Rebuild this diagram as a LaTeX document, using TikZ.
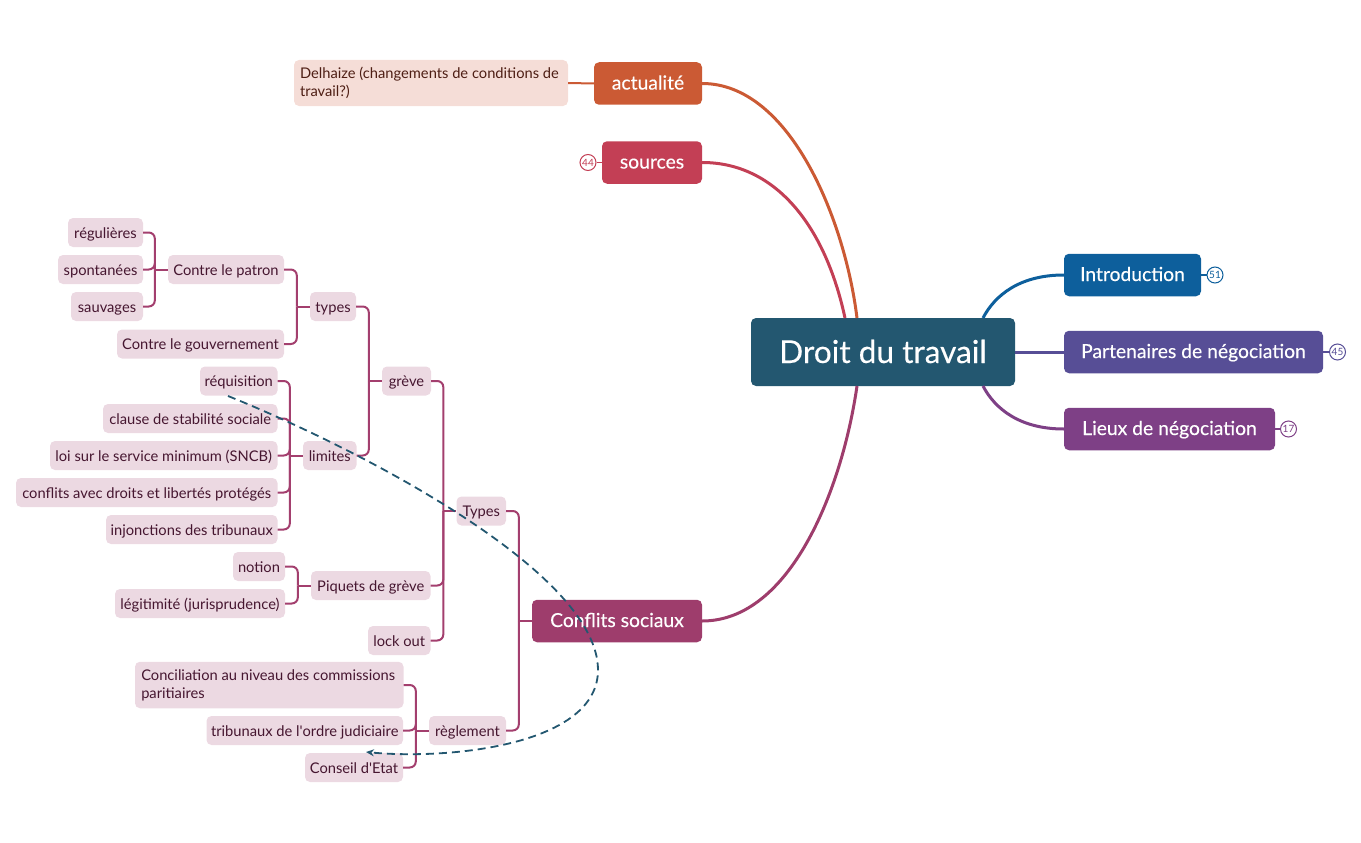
\documentclass[tikz,border=0pt]{standalone}
\usepackage{fontspec}
\setmainfont{Lato}
\newfontfamily\topicfont[FakeBold=0.25]{Lato}
\usepackage{tikz}
\usetikzlibrary{positioning, arrows.meta}
\definecolor{centralColor}{RGB}{35, 87, 112}
\definecolor{newsColor}{RGB}{203, 90, 52}
\definecolor{newsFill}{RGB}{245, 221, 215}
\definecolor{newsText}{RGB}{78, 30, 20}
\definecolor{sourceColor}{RGB}{195, 63, 85}
\definecolor{conflictColor}{RGB}{158, 61, 108}
\definecolor{conflictLine}{RGB}{163, 63, 110}
\definecolor{conflictFill}{RGB}{236, 217, 226}
\definecolor{conflictText}{RGB}{70, 22, 48}
\definecolor{introColor}{RGB}{13, 95, 156}
\definecolor{partnerColor}{RGB}{87, 78, 150}
\definecolor{placeColor}{RGB}{126, 64, 134}
\tikzset{
    central_topic/.style={
        fill=centralColor,
        text=white,
        rounded corners=5pt,
        inner sep=0pt,
        text height=25pt,
        text depth=3pt,
        font=\topicfont\fontsize{31.6}{36}\selectfont
    },
    main_topic/.style={
        fill=#1,
        text=white,
        rounded corners=5pt,
        inner sep=0pt,
        minimum height=42.5pt,
        text height=15pt,
        text depth=3pt,
        font=\topicfont\fontsize{19.3}{23}\selectfont
    },
    sub_block/.style={
        fill=conflictFill,
        text=conflictText,
        rounded corners=5pt,
        inner sep=0pt,
        minimum height=29pt,
        font=\fontsize{14.7}{18}\selectfont
    },
    sub_topic/.style={
        sub_block,
        text height=13pt,
        text depth=2pt
    },
    sub_lines/.style={
        sub_block,
        align=flush left
    },
    count_badge/.style={
        circle,
        draw=#1,
        text=#1,
        fill=white,
        line width=1pt,
        inner sep=0pt,
        minimum size=16pt,
        font=\fontsize{10}{10}\selectfont
    },
    trunk_edge/.style={
        line width=3pt,
        draw=#1
    },
    branch_edge/.style={
        line width=2pt,
        draw=conflictLine,
        rounded corners=6pt
    },
    relation_edge/.style={
        -{Stealth[length=8pt,width=7pt]},
        line width=1.8pt,
        draw=centralColor,
        dash pattern=on 8pt off 5pt
    }
}
\begin{document}
\begin{tikzpicture}[x=1pt, y=-1pt]
    \useasboundingbox (0,0) rectangle (1361,843);

    % main topics
    \node[central_topic, minimum width=264pt, minimum height=68pt] (central) at (883,352) {Droit du travail};
    \node[main_topic=newsColor, minimum width=108pt] (actualite) at (648,83.5) {actualité};
    \node[main_topic=sourceColor, minimum width=100pt] (sources) at (652,162.5) {sources};
    \node[main_topic=conflictColor, minimum width=170pt] (conflits) at (617,621) {Conflits sociaux};
    \node[main_topic=introColor, minimum width=137pt] (intro) at (1132.5,275) {Introduction};
    \node[main_topic=partnerColor, minimum width=259pt] (partenaires) at (1193.5,352) {Partenaires de négociation};
    \node[main_topic=placeColor, minimum width=211pt] (lieux) at (1169.5,429) {Lieux de négociation};

    % badges
    \node[count_badge=sourceColor] (badge_sources) at (588,162.5) {44};
    \node[count_badge=introColor] (badge_intro) at (1215,275) {51};
    \node[count_badge=partnerColor] (badge_partenaires) at (1337.5,352) {45};
    \node[count_badge=placeColor] (badge_lieux) at (1288.5,429) {17};

    \node[sub_lines, fill=newsFill, text=newsText, minimum width=274pt, minimum height=46pt, text width=262pt] (delhaize) at (431,83) {Delhaize (changements de conditions de travail?)};

    % greve
    \node[sub_topic, minimum width=75pt] (regulieres) at (105.5,232.5) {régulières};
    \node[sub_topic, minimum width=85pt] (spontanees) at (100.5,269.5) {spontanées};
    \node[sub_topic, minimum width=72pt] (sauvages) at (107,306.5) {sauvages};
    \node[sub_topic, minimum width=116pt] (patron) at (226,269.5) {Contre le patron};
    \node[sub_topic, minimum width=167pt] (gouvernement) at (200.5,344) {Contre le gouvernement};
    \node[sub_topic, minimum width=46pt] (types) at (333,306.5) {types};
    \node[sub_topic, minimum width=77.5pt] (requisition) at (238.75,381) {réquisition};
    \node[sub_topic, minimum width=174.5pt] (clause) at (190.25,418.5) {clause de stabilité sociale};
    \node[sub_topic, minimum width=227.5pt] (service) at (163.75,455.5) {loi sur le service minimum (SNCB)};
    \node[sub_topic, minimum width=261.5pt] (droits) at (146.75,492.5) {conflits avec droits et libertés protégés};
    \node[sub_topic, minimum width=171.5pt] (injonctions) at (191.75,529.5) {injonctions des tribunaux};
    \node[sub_topic, minimum width=53.5pt] (limites) at (329.75,455.5) {limites};
    \node[sub_topic, minimum width=49pt] (greve) at (406.5,381) {grève};

    % piquets, lock out
    \node[sub_topic, minimum width=52pt] (notion) at (259,566.5) {notion};
    \node[sub_topic, minimum width=170pt] (legitimite) at (200,603.5) {légitimité (jurisprudence)};
    \node[sub_topic, minimum width=119.5pt] (piquets) at (370.75,585.5) {Piquets de grève};
    \node[sub_topic, minimum width=62.5pt] (lockout) at (399.25,640.5) {lock out};
    \node[sub_topic, minimum width=49.5pt] (typesgen) at (481.25,511) {Types};

    % reglement
    \node[sub_lines, minimum width=268.5pt, minimum height=46.5pt, text width=256pt] (conciliation) at (269.25,685) {Conciliation au niveau des commissions paritiaires};
    \node[sub_topic, minimum width=196.5pt] (judiciaire) at (304.75,730.5) {tribunaux de l\textquotesingle ordre judiciaire};
    \node[sub_topic, minimum width=98pt] (conseil) at (354,767.5) {Conseil d\textquotesingle Etat};
    \node[sub_topic, minimum width=77pt] (reglement) at (467.5,730.5) {règlement};

    % where the trunks meet the central box
    \coordinate (central_top_a) at (857,318);
    \coordinate (central_top_b) at (845,318);
    \coordinate (central_top_c) at (983,318);
    \coordinate (central_bot_a) at (857,386);
    \coordinate (central_bot_c) at (983,386);

    \draw[trunk_edge=newsColor] (actualite.east) .. controls (790,83.5) and (845,220) .. (central_top_a);
    \draw[trunk_edge=sourceColor] (sources.east) .. controls (775,162.5) and (825,225) .. (central_top_b);
    \draw[trunk_edge=conflictColor] (conflits.east) .. controls (790,621) and (842,490) .. (central_bot_a);
    \draw[trunk_edge=introColor] (intro.west) .. controls (1020,275) and (995,295) .. (central_top_c);
    \draw[trunk_edge=placeColor] (lieux.west) .. controls (1020,429) and (995,409) .. (central_bot_c);
    \draw[trunk_edge=partnerColor] (central.east) -- (partenaires.west);
    \draw[line width=2pt, draw=newsColor] (delhaize.east) -- (actualite.west);

    \draw[line width=1.5pt, draw=sourceColor] (sources.west) -- (badge_sources);
    \draw[line width=1.5pt, draw=introColor] (intro.east) -- (badge_intro);
    \draw[line width=1.5pt, draw=partnerColor] (partenaires.east) -- (badge_partenaires);
    \draw[line width=1.5pt, draw=placeColor] (lieux.east) -- (badge_lieux);

    % brackets
    \foreach \parent/\children in {
        patron/{regulieres,spontanees,sauvages},
        types/{patron,gouvernement},
        limites/{requisition,clause,service,droits,injonctions},
        greve/{types,limites},
        piquets/{notion,legitimite},
        typesgen/{greve,piquets,lockout},
        reglement/{conciliation,judiciaire,conseil},
        conflits/{typesgen,reglement}}{
        \coordinate[left=13pt of \parent.west] (spine_\parent);
        \draw[branch_edge] (spine_\parent) -- (\parent.west);
        \foreach \child in \children
            \draw[branch_edge] (\child.east) -| (spine_\parent);
    }

    % relation
    \coordinate (relation_start) at (228,396);
    \coordinate (relation_turn) at (598,670);
    \coordinate (relation_end) at (366,752);
    \draw[relation_edge] (relation_start) .. controls (350,445) and (598,570) .. (relation_turn)
        .. controls (598,745) and (450,760) .. (relation_end);
\end{tikzpicture}
\end{document}
